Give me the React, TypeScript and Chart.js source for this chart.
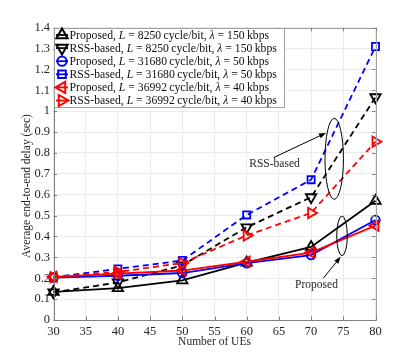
import React, { useEffect, useRef } from "react";
import { Chart, registerables } from "chart.js";
Chart.register(...registerables);

const ues = [30, 40, 50, 60, 70, 80];
const propL8250 = [0.135, 0.153, 0.19, 0.275, 0.35, 0.571];
const rssL8250 = [0.132, 0.18, 0.262, 0.444, 0.588, 1.067];
const propL31680 = [0.203, 0.212, 0.225, 0.272, 0.311, 0.479];
const rssL31680 = [0.205, 0.245, 0.285, 0.503, 0.672, 1.31];
const propL36992 = [0.207, 0.222, 0.237, 0.279, 0.323, 0.452];
const rssL36992 = [0.205, 0.23, 0.273, 0.405, 0.513, 0.854];

const xTicks = [30, 35, 40, 45, 50, 55, 60, 65, 70, 75, 80];
const yTicks = [0, 0.1, 0.2, 0.3, 0.4, 0.5, 0.6, 0.7, 0.8, 0.9, 1, 1.1, 1.2, 1.3, 1.4];

const legendScheme = ["Proposed", "RSS-based", "Proposed", "RSS-based", "Proposed", "RSS-based"];
const legendL = ["8250", "8250", "31680", "31680", "36992", "36992"];
const legendLambda = ["150", "150", "50", "50", "40", "40"];

const xTitle = "Number of UEs";
const yTitle = "Average end-to-end delay (sec)";
const rssNote = "RSS-based";
const propNote = "Proposed";

const SERIF = '"Liberation Serif", "Times New Roman", serif';
const BLACK = "#000000";
const BLUE = "#0000ff";
const RED = "#ff0000";

type Style = { color: string; shape: string; rot: number; dash: number[]; r: number };
const styles: Style[] = [
  { color: BLACK, shape: "triangle", rot: 0, dash: [], r: 6 },
  { color: BLACK, shape: "triangle", rot: 180, dash: [6, 4], r: 6 },
  { color: BLUE, shape: "circle", rot: 0, dash: [], r: 4.3 },
  { color: BLUE, shape: "rect", rot: 0, dash: [6, 4], r: 5 },
  { color: RED, shape: "triangle", rot: 270, dash: [], r: 6 },
  { color: RED, shape: "triangle", rot: 90, dash: [6, 4], r: 6 },
];
const seriesData = [propL8250, rssL8250, propL31680, rssL31680, propL36992, rssL36992];
const drawOrder = [5, 4, 3, 2, 1, 0];

function drawMarker(ctx: CanvasRenderingContext2D, s: Style, x: number, y: number, r: number, lw: number) {
  ctx.save();
  ctx.translate(x, y);
  ctx.rotate((s.rot * Math.PI) / 180);
  ctx.beginPath();
  if (s.shape === "circle") {
    ctx.arc(0, 0, r, 0, Math.PI * 2);
  } else if (s.shape === "rect") {
    const h = r / Math.SQRT2;
    ctx.rect(-h, -h, 2 * h, 2 * h);
  } else {
    for (let i = 0; i < 3; i++) {
      const a = (i * 2 * Math.PI) / 3;
      const px = Math.sin(a) * r;
      const py = -Math.cos(a) * r;
      if (i === 0) ctx.moveTo(px, py);
      else ctx.lineTo(px, py);
    }
    ctx.closePath();
  }
  ctx.setLineDash([]);
  ctx.lineWidth = lw;
  ctx.strokeStyle = s.color;
  ctx.stroke();
  ctx.restore();
}

function drawArrow(ctx: CanvasRenderingContext2D, x1: number, y1: number, x2: number, y2: number) {
  const ang = Math.atan2(y2 - y1, x2 - x1);
  const hl = 7;
  const hw = 2.6;
  ctx.beginPath();
  ctx.moveTo(x1, y1);
  ctx.lineTo(x2 - Math.cos(ang) * hl * 0.8, y2 - Math.sin(ang) * hl * 0.8);
  ctx.stroke();
  ctx.beginPath();
  ctx.moveTo(x2, y2);
  ctx.lineTo(x2 - Math.cos(ang) * hl - Math.sin(ang) * hw, y2 - Math.sin(ang) * hl + Math.cos(ang) * hw);
  ctx.lineTo(x2 - Math.cos(ang) * hl + Math.sin(ang) * hw, y2 - Math.sin(ang) * hl - Math.cos(ang) * hw);
  ctx.closePath();
  ctx.fill();
}

const overlayPlugin = {
  id: "overlay",
  afterDraw(chart: any) {
    const { ctx, chartArea: a, scales } = chart;
    const xs = scales.x;
    const ys = scales.y;
    const X = (v: number) => xs.getPixelForValue(v);
    const Y = (v: number) => ys.getPixelForValue(v);
    ctx.save();
    // axis box
    ctx.strokeStyle = "#a0a0a0";
    ctx.lineWidth = 1;
    ctx.setLineDash([]);
    ctx.strokeRect(Math.round(a.left) + 0.5, Math.round(a.top) + 0.5, Math.round(a.right - a.left), Math.round(a.bottom - a.top));
    ctx.strokeStyle = "#808080";
    ctx.beginPath();
    ctx.moveTo(Math.round(a.left) + 0.5, a.top);
    ctx.lineTo(Math.round(a.left) + 0.5, Math.round(a.bottom) + 0.5);
    ctx.lineTo(a.right, Math.round(a.bottom) + 0.5);
    for (const v of xTicks) {
      const px = Math.round(X(v)) + 0.5;
      ctx.moveTo(px, a.bottom);
      ctx.lineTo(px, a.bottom - 3.5);
      ctx.moveTo(px, a.top);
      ctx.lineTo(px, a.top + 3.5);
    }
    for (const v of yTicks) {
      const py = Math.round(Y(v)) + 0.5;
      ctx.moveTo(a.left, py);
      ctx.lineTo(a.left + 3.5, py);
      ctx.moveTo(a.right, py);
      ctx.lineTo(a.right - 3.5, py);
    }
    ctx.stroke();

    // annotations
    ctx.strokeStyle = "#000";
    ctx.fillStyle = "#000";
    ctx.lineWidth = 1;
    const ell = (cx: number, cy: number, rx: number, ry: number) => {
      ctx.beginPath();
      ctx.ellipse(X(cx), Y(cy), Math.abs(X(cx + rx) - X(cx)), Math.abs(Y(cy + ry) - Y(cy)), 0, 0, Math.PI * 2);
      ctx.stroke();
    };
    ell(73.59, 0.772, 1.43, 0.194);
    ell(74.8, 0.403, 0.82, 0.095);
    drawArrow(ctx, X(64.2), Y(0.778), X(72.31), Y(0.896));
    drawArrow(ctx, X(71.89), Y(0.2), X(74.6), Y(0.303));
    ctx.fillStyle = "#262626";
    ctx.font = `11.5px ${SERIF}`;
    ctx.textAlign = "center";
    ctx.textBaseline = "middle";
    ctx.fillText(rssNote, X(64.32), Y(0.747));
    ctx.fillText(propNote, X(70.84), Y(0.168));

    // axis titles
    ctx.font = `11.5px ${SERIF}`;
    ctx.fillText(xTitle, (a.left + a.right) / 2, 342);
    ctx.save();
    ctx.translate(27, 186);
    ctx.rotate(-Math.PI / 2);
    ctx.fillText(yTitle, 0, 0);
    ctx.restore();

    // legend
    const fs = 11.7;
    const rowH = 13.1;
    const segsFor = (i: number) => [
      { t: legendScheme[i] + ", ", it: false },
      { t: "L", it: true },
      { t: " = " + legendL[i] + "\u2009cycle/bit, ", it: false },
      { t: "\u03bb", it: true },
      { t: " = " + legendLambda[i] + "\u2009kbps", it: false },
    ];
    let maxW = 0;
    for (let i = 0; i < 6; i++) {
      let w = 0;
      for (const s of segsFor(i)) {
        ctx.font = `${s.it ? "italic " : ""}${fs}px ${SERIF}`;
        w += ctx.measureText(s.t).width;
      }
      maxW = Math.max(maxW, w);
    }
    const lx = Math.round(a.left) + 0.5;
    const ly = Math.round(a.top) + 0.5;
    const textX = lx + 15;
    const bw = Math.round(textX + maxW + 8 - lx);
    const bh = Math.round(rowH * 6 + 0.5);
    ctx.fillStyle = "#ffffff";
    ctx.fillRect(lx, ly, bw, bh);
    ctx.strokeStyle = "#a0a0a0";
    ctx.lineWidth = 1;
    ctx.strokeRect(lx, ly, bw, bh);
    for (let i = 0; i < 6; i++) {
      const cy = ly + 6.5 + i * rowH;
      const st = styles[i];
      ctx.strokeStyle = st.color;
      ctx.lineWidth = 1.8;
      ctx.setLineDash([]);
      ctx.beginPath();
      ctx.moveTo(lx + 1.5, cy);
      ctx.lineTo(lx + 13.5, cy);
      ctx.stroke();
      drawMarker(ctx, st, lx + 7.5, cy, st.r * 1.08, 2);
      let tx = textX;
      ctx.fillStyle = "#111";
      ctx.textAlign = "left";
      ctx.textBaseline = "middle";
      for (const s of segsFor(i)) {
        ctx.font = `${s.it ? "italic " : ""}${fs}px ${SERIF}`;
        ctx.fillText(s.t, tx, cy + 0.5);
        tx += ctx.measureText(s.t).width;
      }
    }
    ctx.restore();
  },
};

export default function App() {
  const ref = useRef<HTMLCanvasElement>(null);
  useEffect(() => {
    document.body.style.margin = "0";
    const canvas = ref.current;
    if (!canvas) return;
    const datasets = seriesData.map((vals, i) => ({
      label: legendScheme[i] + " " + legendL[i],
      data: ues.map((u, k) => ({ x: u, y: vals[k] })),
      borderColor: styles[i].color,
      backgroundColor: "rgba(0,0,0,0)",
      borderWidth: 1.8,
      borderDash: styles[i].dash,
      pointStyle: styles[i].shape,
      pointRotation: styles[i].rot,
      pointRadius: styles[i].r,
      pointBorderWidth: 1.8,
      pointBorderColor: styles[i].color,
      pointBackgroundColor: "rgba(0,0,0,0)",
      tension: 0,
      clip: false as any,
      order: drawOrder[i],
    }));
    const chart = new Chart(canvas, {
      type: "line",
      data: { datasets },
      options: {
        animation: false,
        responsive: false,
        devicePixelRatio: 1,
        layout: { padding: { top: 27.7, right: 39.5, bottom: 0, left: 0 } },
        plugins: { legend: { display: false }, tooltip: { enabled: false } },
        scales: {
          x: {
            type: "linear",
            min: 30,
            max: 80,
            afterBuildTicks: (s: any) => {
              s.ticks = xTicks.map((v) => ({ value: v }));
            },
            afterFit: (s: any) => {
              s.height = 40;
            },
            ticks: {
              font: { family: SERIF, size: 12.5 },
              color: "#262626",
              padding: 4.5,
              autoSkip: false,
              maxRotation: 0,
              callback: (v: any) => String(v),
            },
            grid: { color: "#ebebeb", drawTicks: false },
            border: { display: false },
          },
          y: {
            type: "linear",
            min: 0,
            max: 1.4,
            afterBuildTicks: (s: any) => {
              s.ticks = yTicks.map((v) => ({ value: v }));
            },
            afterFit: (s: any) => {
              s.width = 53.5;
            },
            ticks: {
              font: { family: SERIF, size: 12.5 },
              color: "#262626",
              padding: 3.5,
              autoSkip: false,
              callback: (v: any) => String(+Number(v).toFixed(1)),
            },
            grid: { color: "#ebebeb", drawTicks: false },
            border: { display: false },
          },
        },
      },
      plugins: [overlayPlugin],
    });
    return () => chart.destroy();
  }, []);
  return (
    <div style={{ position: "absolute", left: 0, top: 0, width: 415, height: 360 }}>
      <canvas ref={ref} width={415} height={360} style={{ width: 415, height: 360, display: "block" }} />
    </div>
  );
}
